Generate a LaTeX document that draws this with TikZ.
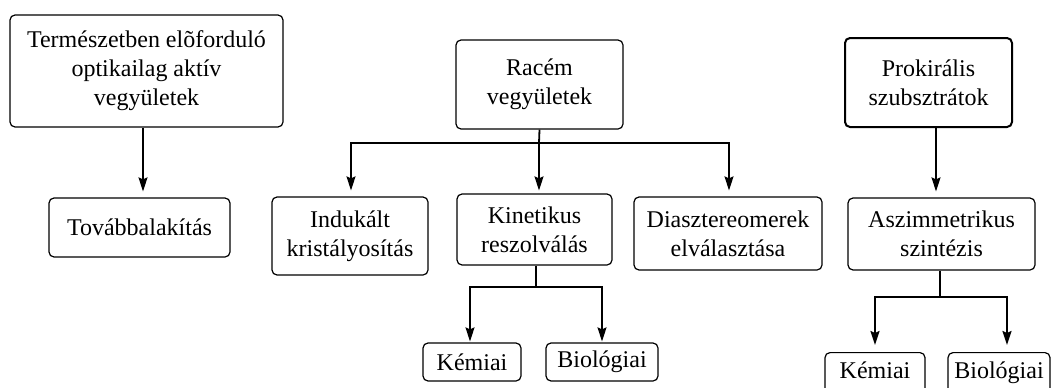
\documentclass[tikz,border=0pt]{standalone}
\usepackage{fontspec}
\setmainfont{Liberation Serif}
\usetikzlibrary{arrows.meta}

\tikzset{
  box/.style={draw, rounded corners=5pt, line width=1.2pt, align=center,
    inner sep=0pt, font=\fontsize{24}{29}\selectfont},
  boldbox/.style={box, line width=2pt},
  cutbox/.style={box, anchor=north, minimum height=48pt, text height=20pt, text depth=16pt},
  link/.style={line width=1.8pt},
  arr/.style={link, -{Stealth[length=14pt, width=9pt, inset=2pt]}},
}

\begin{document}
\begin{tikzpicture}[x=1pt, y=-1pt]
\useasboundingbox (0,0) rectangle (1053,388);
\clip (0,0) rectangle (1053,388);

% left column
\node[box, minimum width=273pt, minimum height=112pt] (nat) at (146.5,71)
  {Természetben elõforduló\\optikailag aktív\\vegyületek};
\node[box, minimum width=181pt, minimum height=59pt] (tov) at (139.5,227.5)
  {Továbbalakítás};
\draw[arr, shorten >=6pt] ([xshift=3.5pt]tov.north |- nat.south) -- ([xshift=3.5pt]tov.north);

% racemic branch
\node[box, minimum width=167pt, minimum height=89pt] (rac) at (539.5,84.5)
  {Racém\\vegyületek};
\node[box, minimum width=156pt, minimum height=78pt] (ind) at (350,236)
  {Indukált\\kristályosítás};
\node[box, minimum width=155pt, minimum height=71pt] (kin) at (534.5,229.5)
  {Kinetikus\\reszolválás};
\node[box, minimum width=188pt, minimum height=73pt] (dia) at (728,233.5)
  {Diasztereomerek\\elválasztása};
\coordinate (racfork) at (539,143);
\draw[link] (rac.south) -- (racfork);
\draw[arr, shorten >=6pt] (racfork) -| ([xshift=1pt]ind.north);
\draw[arr, shorten >=3pt] (racfork) -- (racfork |- kin.north);
\draw[arr, shorten >=6pt] (racfork) -| ([xshift=1pt]dia.north);

\node[box, minimum width=98pt, minimum height=38pt] (kem1) at (472,362) {Kémiai};
\node[box, minimum width=112pt, minimum height=38pt] (bio1) at (602,362) {Biológiai};
\coordinate (kinfork) at (536,287);
\draw[link] (kinfork |- kin.south) -- (kinfork);
\draw[arr, shorten >=1pt] (kinfork) -| ([xshift=-2pt]kem1.north);
\draw[arr, shorten >=1pt] (kinfork) -| (bio1.north);

% prochiral branch
\node[boldbox, minimum width=167pt, minimum height=89pt] (pro) at (928.5,82.5)
  {Prokirális\\szubsztrátok};
\node[box, minimum width=187pt, minimum height=72pt] (asz) at (941.5,234)
  {Aszimmetrikus\\szintézis};
\draw[arr, shorten >=6pt] ([xshift=-5.5pt]asz.north |- pro.south) -- ([xshift=-5.5pt]asz.north);

\node[cutbox, minimum width=100pt] (kem2) at (875,352) {Kémiai};
\node[cutbox, minimum width=102pt] (bio2) at (999,352) {Biológiai};
\coordinate (aszfork) at (940,297);
\draw[link] (aszfork |- asz.south) -- (aszfork);
\draw[arr, shorten >=7pt] (aszfork) -| (kem2.north);
\draw[arr, shorten >=7pt] (aszfork) -| ([xshift=8pt]bio2.north);
\end{tikzpicture}
\end{document}
